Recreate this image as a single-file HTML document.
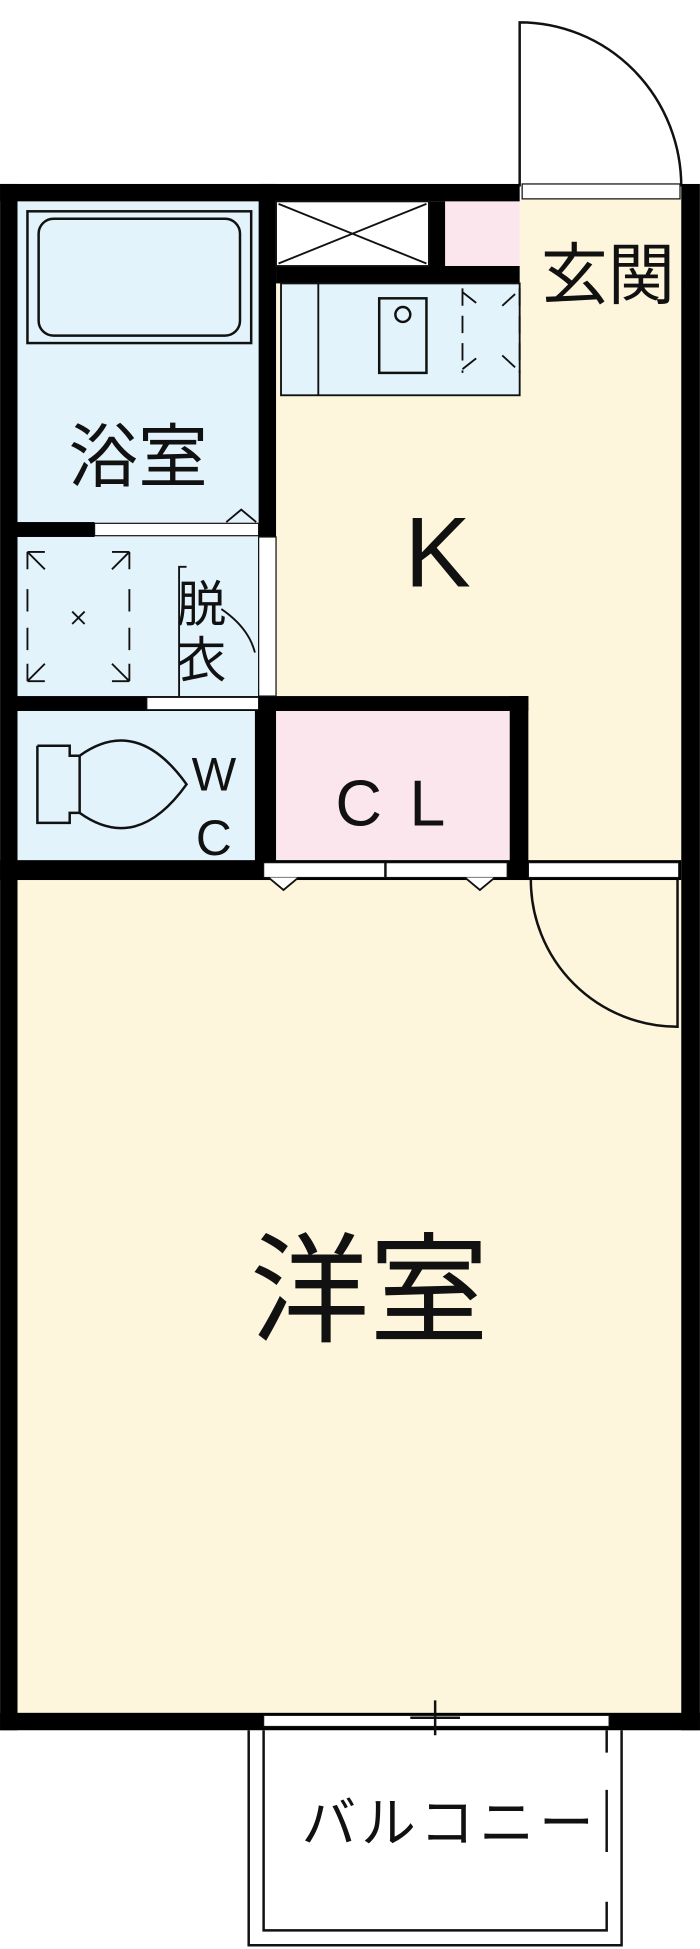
<!DOCTYPE html>
<html><head><meta charset="utf-8"><style>
html,body{margin:0;padding:0;background:#fff;}
svg{display:block;}
text{font-family:"Liberation Sans","Noto Sans CJK JP",sans-serif;fill:#111;}
</style></head><body>
<svg width="700" height="1949" viewBox="0 0 563 1568" xmlns="http://www.w3.org/2000/svg">
<rect width="563" height="1568" fill="#fff"/>
<rect x="14" y="708" width="534" height="672" fill="#fdf6dc"/>
<rect x="222" y="228" width="326" height="470" fill="#fdf6dc"/>
<rect x="418" y="160" width="130" height="70" fill="#fdf6dc"/>
<rect x="14" y="162" width="194" height="258" fill="#e2f3fb"/>
<rect x="14" y="432" width="194" height="128" fill="#e2f3fb"/>
<rect x="14" y="572" width="191" height="120" fill="#e2f3fb"/>
<rect x="222" y="572" width="188" height="120" fill="#fce6ee"/>
<rect x="358" y="162" width="60" height="52" fill="#fce6ee"/>
<rect x="226" y="228" width="192" height="90" fill="#e2f3fb"/>
<path d="M418 150 L418 18 A130 132 0 0 1 548 150" fill="none" stroke="#111" stroke-width="2"/>
<g fill="#000">
<rect x="0" y="148" width="418" height="14"/>
<rect x="0" y="148" width="14" height="1244"/>
<rect x="548" y="148" width="15" height="1244"/>
<rect x="0" y="1378" width="563" height="14"/>
<rect x="208" y="148" width="14" height="412"/>
<rect x="345" y="162" width="13" height="52"/>
<rect x="222" y="214" width="196" height="14"/>
<rect x="14" y="420" width="62" height="12"/>
<rect x="14" y="560" width="411" height="12"/>
<rect x="205" y="572" width="17" height="130"/>
<rect x="410" y="560" width="15" height="145"/>
<rect x="0" y="692" width="548" height="16"/>
</g>
<rect x="420" y="148" width="127" height="12" fill="#fff" stroke="#111" stroke-width="1"/>
<rect x="222" y="162" width="123" height="52" fill="#fff" stroke="#111" stroke-width="1.5"/>
<path d="M224 164 L343 212 M343 164 L224 212" stroke="#111" stroke-width="1.5"/>
<rect x="22" y="170" width="180" height="106" fill="none" stroke="#111" stroke-width="2"/>
<rect x="31" y="176" width="162" height="94" rx="12" fill="none" stroke="#111" stroke-width="2"/>
<rect x="76" y="421" width="132" height="10" fill="#fff" stroke="#111" stroke-width="1"/>
<path d="M182 420 L194 410 L206 420" fill="none" stroke="#111" stroke-width="1.5"/>
<rect x="208" y="432" width="14" height="128" fill="#fff" stroke="#111" stroke-width="1"/>
<rect x="226" y="228" width="192" height="90" fill="none" stroke="#111" stroke-width="1.5"/>
<line x1="256" y1="228" x2="256" y2="318" stroke="#111" stroke-width="1.5"/>
<rect x="305" y="240" width="38" height="60" fill="none" stroke="#111" stroke-width="2"/>
<circle cx="324" cy="253" r="6" fill="none" stroke="#111" stroke-width="2"/>
<path d="M372 235 L386 246 M372 297 L386 286 M404 246 L416 235 M404 286 L416 297 M372 232 L372 300 M418 232 L418 300" stroke="#111" stroke-width="1.5" stroke-dasharray="14 8" fill="none"/>
<g stroke="#111" stroke-width="1.5" fill="none">
<path d="M22 444 v14 M22 444 h14 M22 444 L36 458"/>
<path d="M104 444 v14 M104 444 h-14 M104 444 L90 458"/>
<path d="M22 548 v-14 M22 548 h14 M22 548 L36 534"/>
<path d="M104 548 v-14 M104 548 h-14 M104 548 L90 534"/>
<path d="M22 474 v18 M22 505 v18 M104 474 v18 M104 505 v18"/>
<path d="M58 492 l10 10 M68 492 l-10 10"/>
<path d="M150 456 h-6 v104"/>
<path d="M178 490 Q200 505 205 525"/>
</g>
<rect x="118" y="561" width="90" height="10" fill="#fff" stroke="#111" stroke-width="1"/>
<g stroke="#111" stroke-width="2" fill="none">
<path d="M30 600 h26 v8 h8 M30 600 v62 h26 v-8 h8 M64 608 v46"/>
<path d="M64 608 Q110 575 150 631 Q110 687 64 654"/>
</g>
<rect x="212" y="694" width="196" height="12" fill="#fff" stroke="#111" stroke-width="1"/>
<line x1="310" y1="694" x2="310" y2="706" stroke="#111" stroke-width="2"/>
<path d="M216 706 l12 10 l12 -10 M374 706 l12 10 l12 -10" fill="#fff" stroke="#111" stroke-width="1.5"/>
<rect x="425" y="694" width="121" height="12" fill="#fff" stroke="#111" stroke-width="1"/>
<path d="M427 708 A118 118 0 0 0 545 826 L545 708" fill="none" stroke="#111" stroke-width="2"/>
<rect x="212" y="1380" width="278" height="9" fill="#fff" stroke="#111" stroke-width="1"/>
<path d="M350 1368 v28 M330 1382 h40" stroke="#111" stroke-width="2"/>
<path d="M200 1392 V1565 H500 V1392" fill="none" stroke="#111" stroke-width="2"/>
<path d="M212 1392 V1553 H488 V1530 M488 1392 V1410 M488 1440 V1490" fill="none" stroke="#111" stroke-width="2"/>
<text x="489" y="240" font-size="54" text-anchor="middle">玄関</text>
<text x="111" y="387" font-size="56" text-anchor="middle">浴室</text>
<text x="352" y="472" font-size="80" text-anchor="middle">K</text>
<text x="162" y="500" font-size="40" text-anchor="middle">脱</text>
<text x="162" y="545" font-size="40" text-anchor="middle">衣</text>
<text x="172" y="636" font-size="38" text-anchor="middle">W</text>
<text x="172" y="688" font-size="40" text-anchor="middle">C</text>
<text x="325" y="664" font-size="52" text-anchor="middle" letter-spacing="22">CL</text>
<text x="297" y="1072" font-size="96" text-anchor="middle">洋室</text>
<text x="362" y="1482" font-size="44" text-anchor="middle" letter-spacing="4">バルコニー</text>
</svg>
</body></html>
